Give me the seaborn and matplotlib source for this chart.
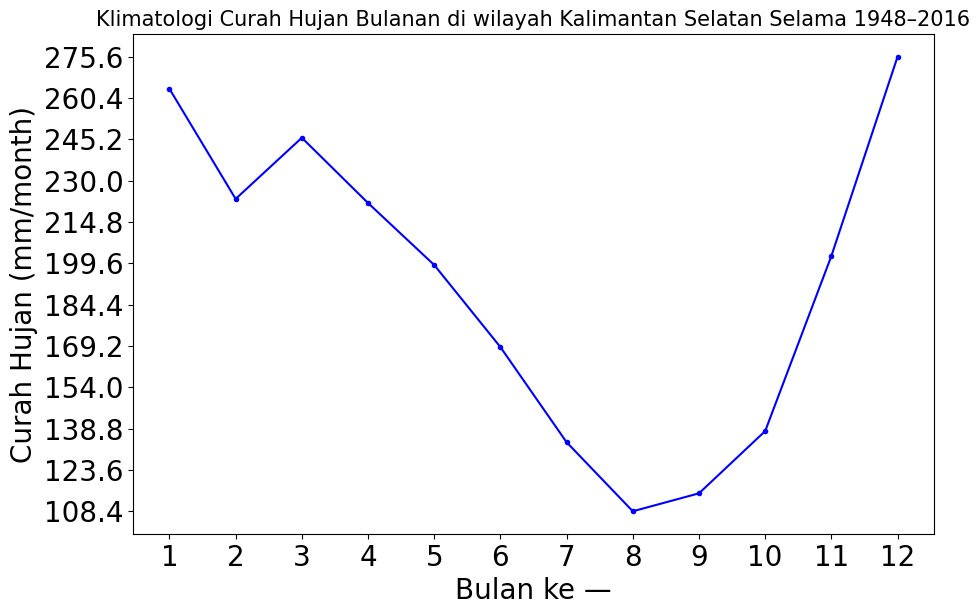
import numpy as np
import pandas as pd
import matplotlib
matplotlib.use("Agg")
import matplotlib.pyplot as plt
import seaborn as sns

# monthly climatology (mm/month)
bulan = [1, 2, 3, 4, 5, 6, 7, 8, 9, 10, 11, 12]
curah_hujan = [263.8, 223.3, 245.8, 221.8, 199.0, 168.8, 133.8, 108.4, 115.0, 137.9, 202.3, 275.6]

df = pd.DataFrame({"bulan": bulan, "ch": curah_hujan})

fig = plt.figure(figsize=(9.79, 6.15), dpi=100)
ax = fig.add_axes([0.1359, 0.1317, 0.8181, 0.813])

sns.lineplot(data=df, x="bulan", y="ch", ax=ax, color="blue", marker="o",
             markersize=4, markeredgewidth=0, linewidth=1.5)

ax.set_xticks(bulan)
yt = np.linspace(min(curah_hujan), max(curah_hujan), 12)
ax.set_yticks(yt)
ax.set_yticklabels([f"{v:.1f}" for v in yt])
ax.tick_params(labelsize=20)

ax.set_title("Klimatologi Curah Hujan Bulanan di wilayah Kalimantan Selatan Selama 1948–2016", fontsize=15)
ax.set_xlabel("Bulan ke —", fontsize=20)
ax.set_ylabel("Curah Hujan (mm/month)", fontsize=20)

fig.savefig("out.png", dpi=100)
